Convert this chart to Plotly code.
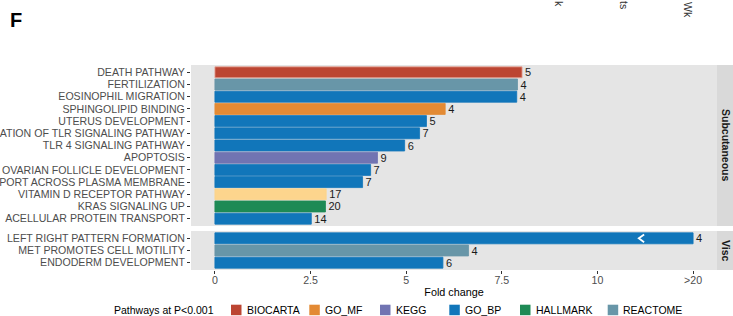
import plotly.graph_objects as go

# ---------------- data ----------------
SUBC_PATHWAYS = [
    "DEATH PATHWAY",
    "FERTILIZATION",
    "EOSINOPHIL MIGRATION",
    "SPHINGOLIPID BINDING",
    "UTERUS DEVELOPMENT",
    "ATION OF TLR SIGNALING PATHWAY",
    "TLR 4 SIGNALING PATHWAY",
    "APOPTOSIS",
    "OVARIAN FOLLICLE DEVELOPMENT",
    "PORT ACROSS PLASMA MEMBRANE",
    "VITAMIN D RECEPTOR PATHWAY",
    "KRAS SIGNALING UP",
    "ACELLULAR PROTEIN TRANSPORT",
]
SUBC_FOLD = [8.03, 7.91, 7.89, 6.02, 5.53, 5.35, 4.96, 4.25, 4.07, 3.86, 2.91, 2.89, 2.52]
SUBC_GENES = [5, 4, 4, 4, 5, 7, 6, 9, 7, 7, 17, 20, 14]
SUBC_DB = ["BIOCARTA", "REACTOME", "GO_BP", "GO_MF", "GO_BP", "GO_BP", "GO_BP",
           "KEGG", "GO_BP", "GO_BP", "WIKIPATHWAYS", "HALLMARK", "GO_BP"]

VISC_PATHWAYS = [
    "LEFT RIGHT PATTERN FORMATION",
    "MET PROMOTES CELL MOTILITY",
    "ENDODERM DEVELOPMENT",
]
VISC_FOLD = [12.5, 6.63, 5.96]   # first value is >20, drawn at the capped position
VISC_GENES = [4, 4, 6]
VISC_DB = ["GO_BP", "REACTOME", "GO_BP"]
AXIS_BREAK_AT = 11.15

X_TICKS = [0, 2.5, 5, 7.5, 10, 12.5]
X_TICK_LABELS = ["0", "2.5", "5", "7.5", "10", ">20"]

LEGEND_DBS = ["BIOCARTA", "GO_MF", "KEGG", "GO_BP", "HALLMARK", "REACTOME"]
DB_COLORS = {
    "BIOCARTA": "#BC4532",
    "GO_MF": "#E38A34",
    "KEGG": "#7174B2",
    "GO_BP": "#1176BA",
    "HALLMARK": "#1E8A55",
    "REACTOME": "#6896A8",
    "WIKIPATHWAYS": "#FDD58D",
}

FONT = "Liberation Sans, Arial, sans-serif"
W, H = 733, 316
ML, MR, MT, MB = 191, 16, 65, 46
PW, PH = W - ML - MR, H - MT - MB


def px2x(px):
    return (px - ML) / PW


def py2y(py):
    return (H - MB - py) / PH


fig = go.Figure()


def bar_trace(names, fold, genes, dbs, xa, ya):
    line_cols = ["#E9A79B" if d == "BIOCARTA" else DB_COLORS[d] for d in dbs]
    return go.Bar(
        x=fold,
        y=list(range(len(names))),
        orientation="h",
        width=0.9,
        marker=dict(color=[DB_COLORS[d] for d in dbs],
                    line=dict(color=line_cols, width=0.8)),
        text=[str(g) for g in genes],
        textposition="outside",
        textfont=dict(family=FONT, size=11, color="#1A1A1A"),
        constraintext="none",
        cliponaxis=False,
        xaxis=xa,
        yaxis=ya,
        showlegend=False,
        hoverinfo="skip",
    )


fig.add_trace(bar_trace(SUBC_PATHWAYS, SUBC_FOLD, SUBC_GENES, SUBC_DB, "x2", "y"))
fig.add_trace(bar_trace(VISC_PATHWAYS, VISC_FOLD, VISC_GENES, VISC_DB, "x", "y2"))

# axis-break chevron on the capped bar
fig.add_trace(go.Scatter(
    x=[AXIS_BREAK_AT + 0.07, AXIS_BREAK_AT - 0.07, AXIS_BREAK_AT + 0.07],
    y=[-0.32, 0, 0.32],
    mode="lines",
    line=dict(color="white", width=1.8),
    xaxis="x", yaxis="y2",
    showlegend=False, hoverinfo="skip",
))

top_dom = [py2y(226), 1.0]
bot_dom = [0.0, py2y(231)]

yaxis_common = dict(
    showgrid=False, zeroline=False, showline=False,
    ticks="outside", ticklen=3, tickwidth=1, tickcolor="#333333",
    tickfont=dict(family=FONT, size=10.6, color="#4D4D4D"),
    fixedrange=True,
)

fig.update_layout(
    width=W, height=H,
    margin=dict(l=ML, r=MR, t=MT, b=MB, autoexpand=False),
    paper_bgcolor="white",
    plot_bgcolor="white",
    font=dict(family=FONT),
    bargap=0,
    xaxis=dict(
        domain=[0, 1], anchor="y2", range=[-0.625, 13.125],
        tickvals=X_TICKS, ticktext=X_TICK_LABELS,
        ticks="outside", ticklen=3, tickwidth=1, tickcolor="#333333",
        tickfont=dict(family=FONT, size=10.6, color="#4D4D4D"),
        ticklabelstandoff=-3,
        showgrid=False, zeroline=False, showline=False, fixedrange=True,
        title=dict(text="Fold change", font=dict(family=FONT, size=10.8, color="#000000"),
                   standoff=3),
    ),
    xaxis2=dict(
        domain=[0, 1], anchor="y", matches="x", range=[-0.625, 13.125],
        showticklabels=False, ticks="", showgrid=False, zeroline=False, showline=False,
    ),
    yaxis=dict(
        domain=top_dom, anchor="x2",
        range=[len(SUBC_PATHWAYS) - 1 + 0.6, -0.6],
        tickvals=list(range(len(SUBC_PATHWAYS))), ticktext=SUBC_PATHWAYS,
        **yaxis_common,
    ),
    yaxis2=dict(
        domain=bot_dom, anchor="x",
        range=[len(VISC_PATHWAYS) - 1 + 0.6, -0.6],
        tickvals=list(range(len(VISC_PATHWAYS))), ticktext=VISC_PATHWAYS,
        **yaxis_common,
    ),
)

shapes = []
annotations = []

# panel backgrounds
for ya in ["y", "y2"]:
    shapes.append(dict(type="rect", xref="x domain", yref=f"{ya} domain",
                       x0=0, x1=1, y0=0, y1=1, fillcolor="#E5E5E5",
                       line=dict(width=0), layer="below"))

# facet strips
strip_x0, strip_x1 = px2x(717), px2x(737)
for dom, label in [(top_dom, "Subcutaneous"), (bot_dom, "Visc")]:
    shapes.append(dict(type="rect", xref="paper", yref="paper",
                       x0=strip_x0, x1=strip_x1, y0=dom[0], y1=dom[1],
                       fillcolor="#D9D9D9", line=dict(width=0), layer="below"))
    annotations.append(dict(xref="paper", yref="paper", x=px2x(726.5),
                            y=(dom[0] + dom[1]) / 2, text=f"<b>{label}</b>",
                            textangle=90, showarrow=False,
                            font=dict(family=FONT, size=10.5, color="#1A1A1A"),
                            xanchor="center", yanchor="middle"))

# manual legend (swatches + labels)
annotations.append(dict(xref="paper", yref="paper", x=px2x(112), y=py2y(310),
                        text="Pathways at P<0.001", showarrow=False,
                        xanchor="left", yanchor="middle",
                        font=dict(family=FONT, size=10.5, color="#000000")))
sw_left = [231, 309.3, 380, 449.3, 520, 607.7]
for db, sx in zip(LEGEND_DBS, sw_left):
    shapes.append(dict(type="rect", xref="paper", yref="paper",
                       x0=px2x(sx), x1=px2x(sx + 10.5),
                       y0=py2y(315.2), y1=py2y(304.7),
                       fillcolor=DB_COLORS[db], line=dict(width=0)))
    annotations.append(dict(xref="paper", yref="paper", x=px2x(sx + 13.5), y=py2y(310),
                            text=db, showarrow=False, xanchor="left", yanchor="middle",
                            font=dict(family=FONT, size=10.5, color="#000000")))

# panel letter
annotations.append(dict(xref="paper", yref="paper", x=px2x(8), y=py2y(20),
                        text="<b>F</b>", showarrow=False, xanchor="left", yanchor="middle",
                        font=dict(family=FONT, size=20, color="#000000")))

# fragments of rotated labels from the panel above
for txt, px, pyb in [("k", 559, 9), ("ts", 624, 11), ("Wk", 688, 20)]:
    annotations.append(dict(xref="paper", yref="paper", x=px2x(px), y=py2y(pyb),
                            text=txt, textangle=90, showarrow=False,
                            xanchor="center", yanchor="bottom",
                            font=dict(family=FONT, size=10.5, color="#333333")))

fig.update_layout(shapes=shapes, annotations=annotations)

fig.write_html("out.html", config={"displayModeBar": False, "staticPlot": True},
               post_script="document.body.style.margin='0px';")
